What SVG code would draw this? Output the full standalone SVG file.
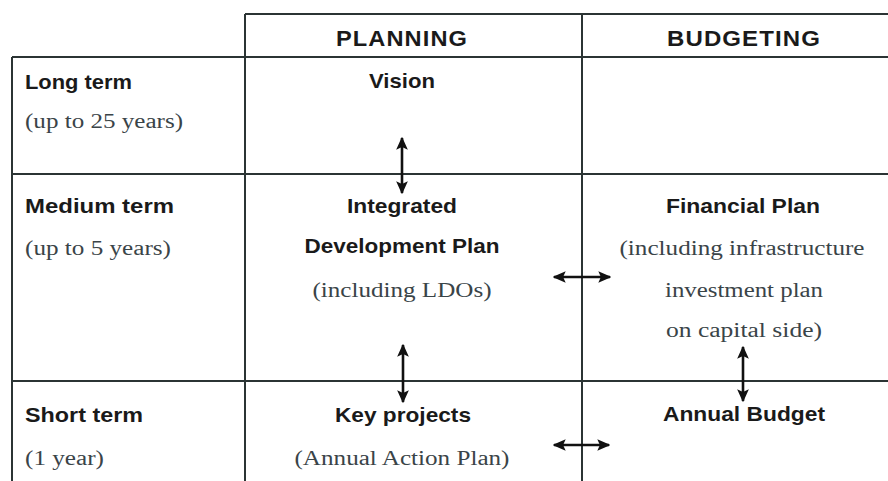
<svg xmlns="http://www.w3.org/2000/svg" width="888" height="481" viewBox="0 0 888 481">
<defs>
<style>
.grid{stroke:#2b3434;stroke-width:2;fill:none}
.b{font-family:"Liberation Sans",Arial,sans-serif;font-weight:bold;fill:#1a1a1a}
.h{font-size:22px;letter-spacing:1px}
.t{font-size:21px}
.s{font-family:"Liberation Serif","Times New Roman",serif;font-size:20px;fill:#3a4448}
.c{text-anchor:middle}
.arr{stroke:#111;stroke-width:2.6;fill:none;marker-start:url(#ah);marker-end:url(#ah)}
</style>
<marker id="ah" viewBox="0 0 10 10" refX="9" refY="5" markerWidth="13" markerHeight="13" orient="auto-start-reverse" markerUnits="userSpaceOnUse">
<path d="M0,0.5 L10,5 L0,9.5 L2,5 Z" fill="#111"/>
</marker>
</defs>
<rect width="888" height="481" fill="#fff"/>
<g id="grid">
<path class="grid" d="M245,14 H888 M12,57 H888 M12,174 H888 M12,381 H888 M12,57 V481 M245,14 V481 M582,14 V481"/>
</g>
<g id="header-planning"><text class="b h c" x="402" y="46" textLength="132" lengthAdjust="spacingAndGlyphs">PLANNING</text></g>
<g id="header-budgeting"><text class="b h c" x="744" y="46" textLength="154" lengthAdjust="spacingAndGlyphs">BUDGETING</text></g>
<g id="row-long">
<text class="b t" x="25" y="89" textLength="107" lengthAdjust="spacingAndGlyphs">Long term</text>
<text class="s" x="25" y="128" textLength="158" lengthAdjust="spacingAndGlyphs">(up to 25 years)</text>
</g>
<g id="row-medium">
<text class="b t" x="25" y="213" textLength="149" lengthAdjust="spacingAndGlyphs">Medium term</text>
<text class="s" x="25" y="255" textLength="146" lengthAdjust="spacingAndGlyphs">(up to 5 years)</text>
</g>
<g id="row-short">
<text class="b t" x="25" y="422" textLength="118" lengthAdjust="spacingAndGlyphs">Short term</text>
<text class="s" x="25" y="465" textLength="79" lengthAdjust="spacingAndGlyphs">(1 year)</text>
</g>
<g id="vision"><text class="b t c" x="402" y="88" textLength="66" lengthAdjust="spacingAndGlyphs">Vision</text></g>
<g id="idp">
<text class="b t c" x="402" y="213" textLength="110" lengthAdjust="spacingAndGlyphs">Integrated</text>
<text class="b t c" x="402" y="253" textLength="195" lengthAdjust="spacingAndGlyphs">Development Plan</text>
<text class="s c" x="402" y="297" textLength="179" lengthAdjust="spacingAndGlyphs">(including LDOs)</text>
</g>
<g id="financial-plan">
<text class="b t c" x="743" y="213" textLength="154" lengthAdjust="spacingAndGlyphs">Financial Plan</text>
<text class="s c" x="742" y="255" textLength="245" lengthAdjust="spacingAndGlyphs">(including infrastructure</text>
<text class="s c" x="744" y="297" textLength="158" lengthAdjust="spacingAndGlyphs">investment plan</text>
<text class="s c" x="744" y="337" textLength="156" lengthAdjust="spacingAndGlyphs">on capital side)</text>
</g>
<g id="key-projects">
<text class="b t c" x="403" y="422" textLength="136" lengthAdjust="spacingAndGlyphs">Key projects</text>
<text class="s c" x="402" y="465" textLength="215" lengthAdjust="spacingAndGlyphs">(Annual Action Plan)</text>
</g>
<g id="annual-budget"><text class="b t c" x="744" y="421" textLength="162" lengthAdjust="spacingAndGlyphs">Annual Budget</text></g>
<g id="connectors">
<line class="arr" x1="402" y1="138" x2="402" y2="193"/>
<line class="arr" x1="403" y1="345" x2="403" y2="402"/>
<line class="arr" x1="743" y1="347" x2="743" y2="401"/>
<line class="arr" x1="554" y1="277" x2="610" y2="277"/>
<line class="arr" x1="554" y1="445" x2="609" y2="445"/>
</g>
</svg>
